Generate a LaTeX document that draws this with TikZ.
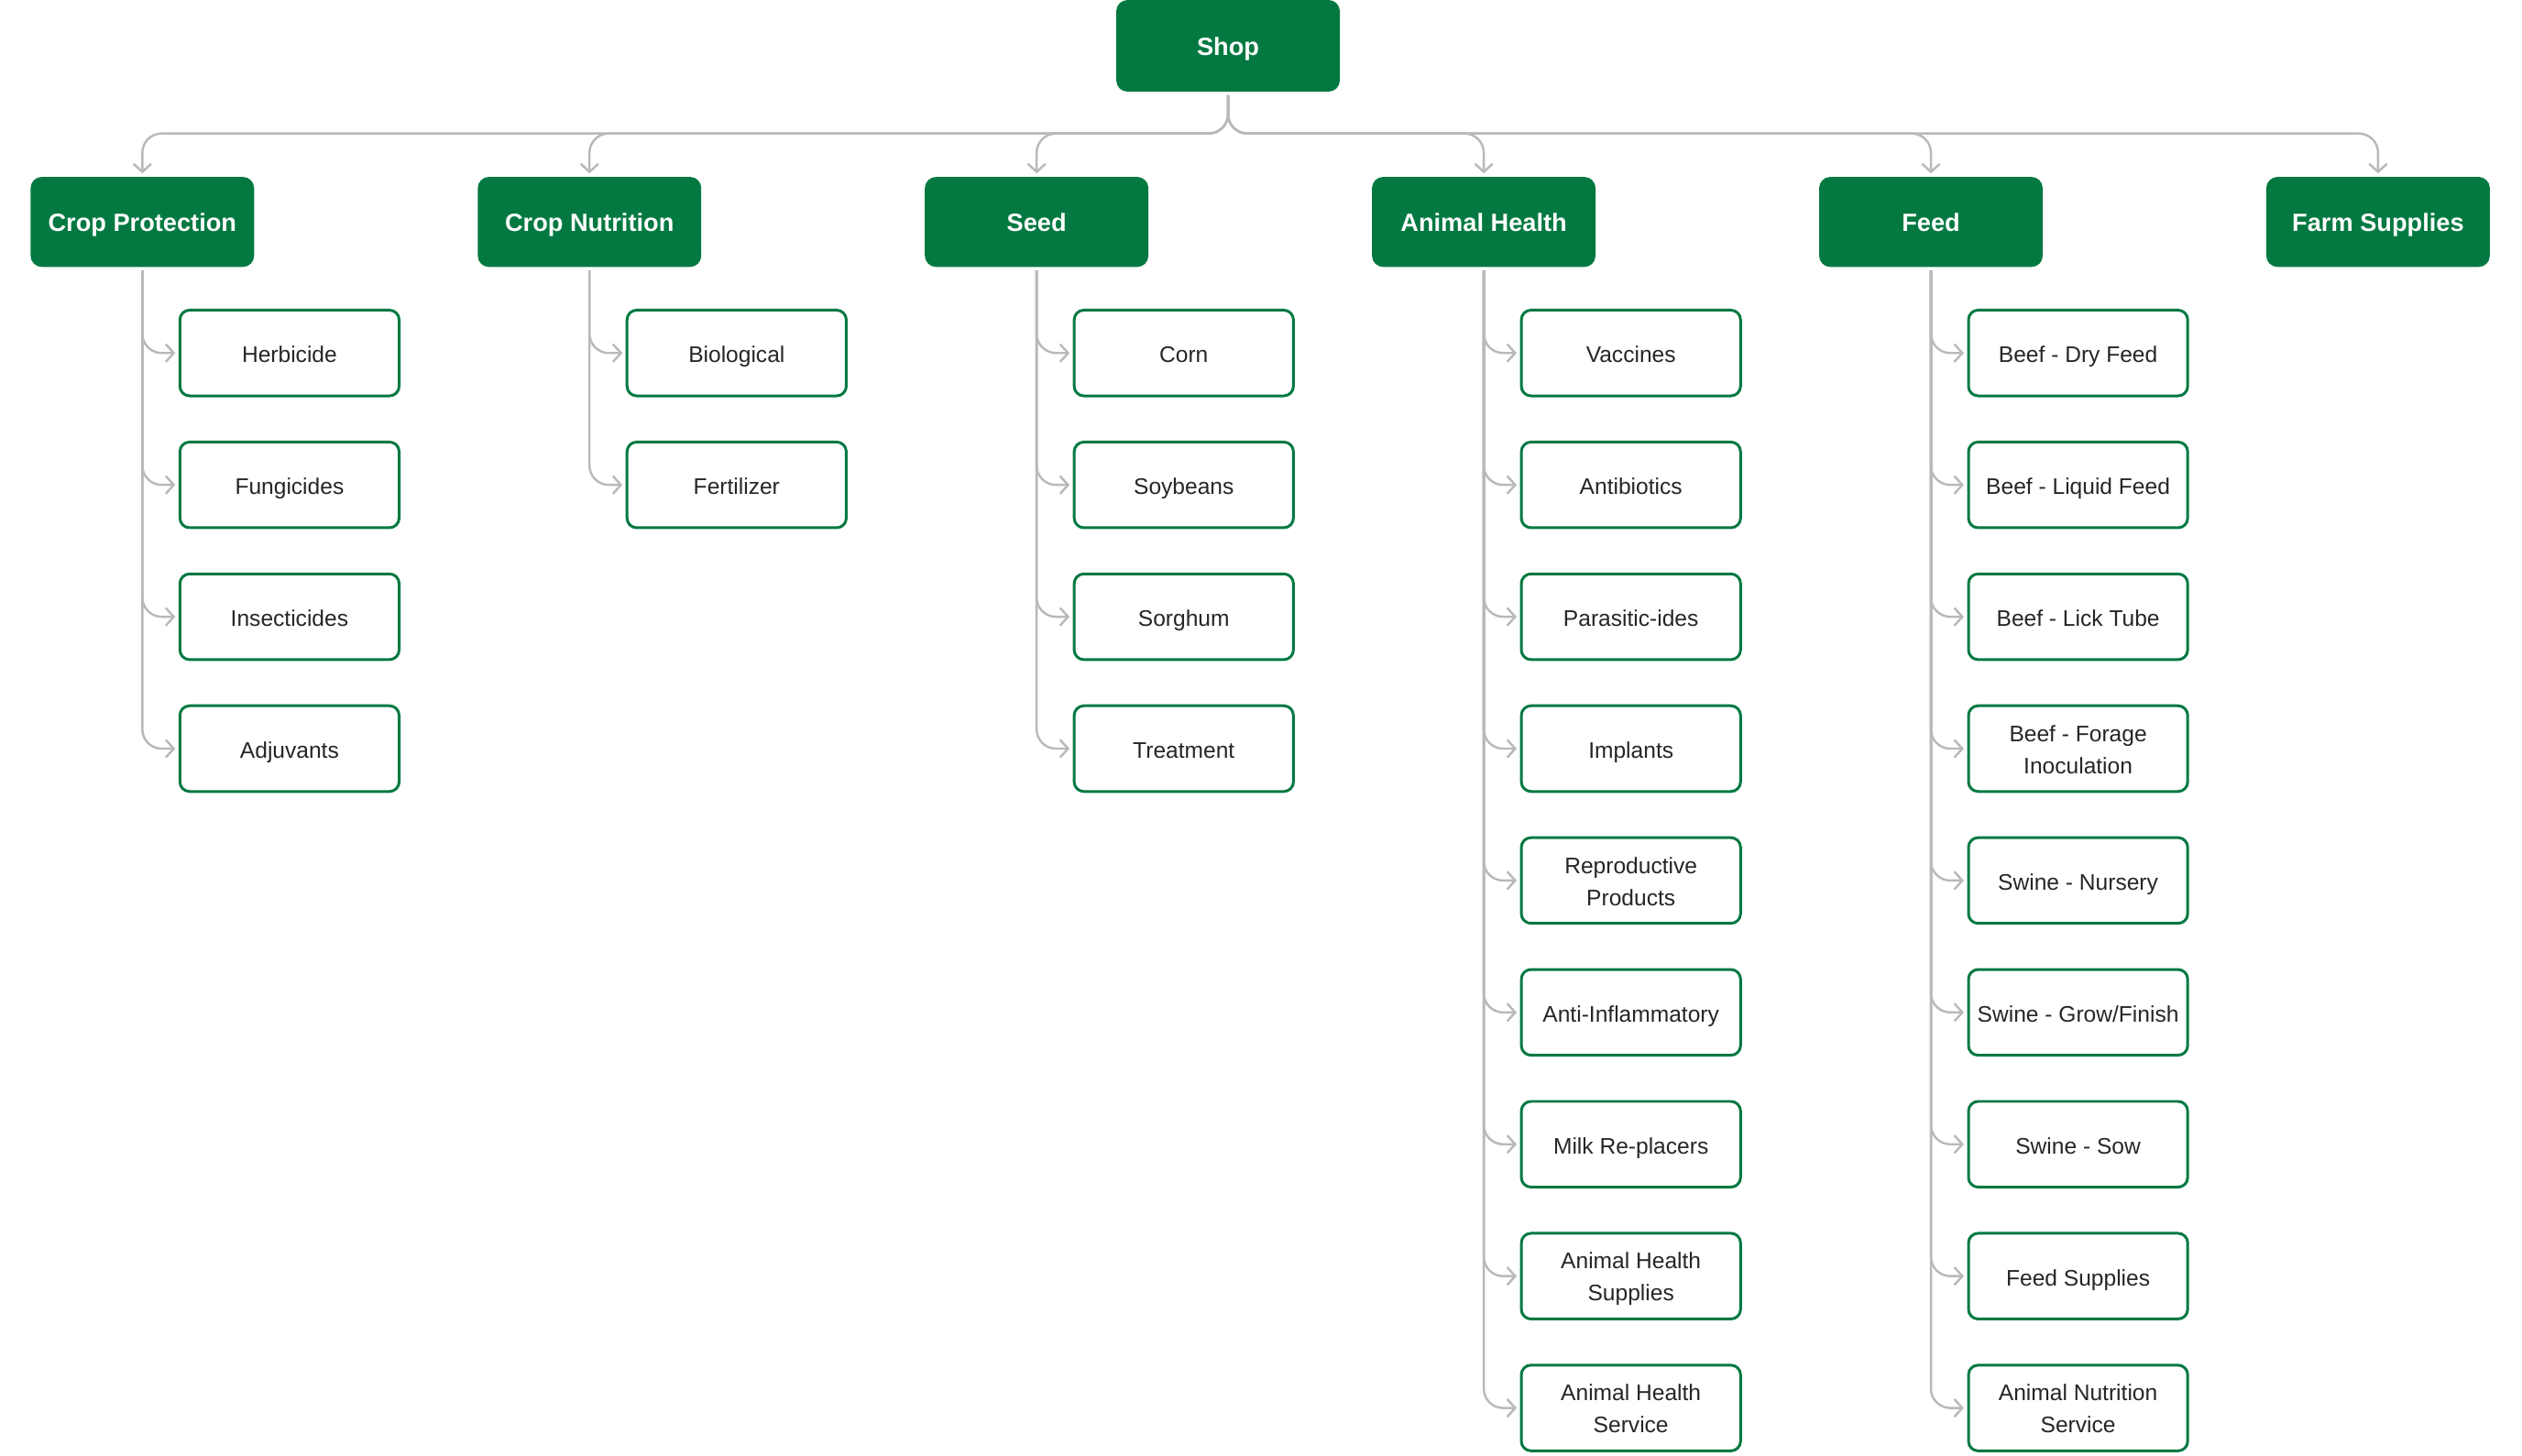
\documentclass[tikz,border=0pt]{standalone}
\usepackage{fontspec}
\setmainfont{Liberation Sans}
\usetikzlibrary{arrows.meta}
\definecolor{shopgreen}{RGB}{3,121,65}
\definecolor{linkgray}{RGB}{185,185,185}
\definecolor{inkgray}{RGB}{38,38,38}
\newcommand{\topstrut}{\rule{0pt}{16pt}}
\newcommand{\botstrut}{\rule[-4pt]{0pt}{4pt}}

\begin{document}
\begin{tikzpicture}[
    x=1pt, y=-1pt,
    head/.style={rectangle, rounded corners=7pt, fill=shopgreen, text=white,
        font=\fontsize{15.5}{20}\selectfont\bfseries,
        execute at begin node=\topstrut, execute at end node=\botstrut,
        minimum width=139pt, minimum height=56pt, inner sep=0pt},
    sub/.style={rectangle, rounded corners=6pt, draw=shopgreen, line width=1.7pt,
        fill=white, text=inkgray, font=\fontsize{14}{20}\selectfont, align=center,
        execute at begin node=\topstrut, execute at end node=\botstrut,
        minimum width=136.3pt, minimum height=53.3pt, inner sep=0pt},
    twoline/.style={text height=35pt, text depth=4pt},
    link/.style={draw=linkgray, line width=1.4pt, rounded corners=12pt,
        -{Straight Barb[length=5pt, width=11pt]}, shorten <=2pt, shorten >=2pt}
]
    \useasboundingbox (0,0) rectangle (1568,905);

    % --- TOP LEVEL ---
    \node[head, minimum height=57pt] (shop) at (763.5, 28.5) {Shop};
    \coordinate (bus) at (0, 83);

    % --- CATEGORIES ---
    \node[head] (cprot)   at (88.5, 138)   {Crop Protection};
    \node[head] (cnutr)   at (366.5, 138)  {Crop Nutrition};
    \node[head] (seed)    at (644.5, 138)  {Seed};
    \node[head] (ahealth) at (922.5, 138)  {Animal Health};
    \node[head] (feed)    at (1200.5, 138) {Feed};
    \node[head] (farm)    at (1478.5, 138) {Farm Supplies};

    \draw[link] (shop.south) |- (bus -| cprot.north) -- (cprot.north);
    \draw[link] (shop.south) |- (bus -| cnutr.north) -- (cnutr.north);
    \draw[link] (shop.south) |- (bus -| seed.north) -- (seed.north);
    \draw[link] (shop.south) |- (bus -| ahealth.north) -- (ahealth.north);
    \draw[link] (shop.south) |- (bus -| feed.north) -- (feed.north);
    \draw[link] (shop.south) |- (bus -| farm.north) -- (farm.north);

    % --- CROP PROTECTION ---
    \node[sub] (herb)   at (180, 219.5) {Herbicide};
    \node[sub] (fung)   at (180, 301.5) {Fungicides};
    \node[sub] (insect) at (180, 383.5) {Insecticides};
    \node[sub] (adjv)   at (180, 465.5) {Adjuvants};

    \draw[link] (cprot.south) |- (herb.west);
    \draw[link] (cprot.south) |- (fung.west);
    \draw[link] (cprot.south) |- (insect.west);
    \draw[link] (cprot.south) |- (adjv.west);

    % --- CROP NUTRITION ---
    \node[sub] (bio)  at (458, 219.5) {Biological};
    \node[sub] (fert) at (458, 301.5) {Fertilizer};

    \draw[link] (cnutr.south) |- (bio.west);
    \draw[link] (cnutr.south) |- (fert.west);

    % --- SEED ---
    \node[sub] (corn)  at (736, 219.5) {Corn};
    \node[sub] (soy)   at (736, 301.5) {Soybeans};
    \node[sub] (sorg)  at (736, 383.5) {Sorghum};
    \node[sub] (treat) at (736, 465.5) {Treatment};

    \draw[link] (seed.south) |- (corn.west);
    \draw[link] (seed.south) |- (soy.west);
    \draw[link] (seed.south) |- (sorg.west);
    \draw[link] (seed.south) |- (treat.west);

    % --- ANIMAL HEALTH ---
    \node[sub] (vacc)    at (1014, 219.5) {Vaccines};
    \node[sub] (antib)   at (1014, 301.5) {Antibiotics};
    \node[sub] (para)    at (1014, 383.5) {Parasitic-ides};
    \node[sub] (impl)    at (1014, 465.5) {Implants};
    \node[sub, twoline] (repro)   at (1014, 547.5) {Reproductive\\Products};
    \node[sub] (antiinf) at (1014, 629.5) {Anti-Inflammatory};
    \node[sub] (milk)    at (1014, 711.5) {Milk Re-placers};
    \node[sub, twoline] (ahsup)   at (1014, 793.5) {Animal Health\\Supplies};
    \node[sub, twoline] (ahserv)  at (1014, 875.5) {Animal Health\\Service};

    \draw[link] (ahealth.south) |- (vacc.west);
    \draw[link] (ahealth.south) |- (antib.west);
    \draw[link] (ahealth.south) |- (para.west);
    \draw[link] (ahealth.south) |- (impl.west);
    \draw[link] (ahealth.south) |- (repro.west);
    \draw[link] (ahealth.south) |- (antiinf.west);
    \draw[link] (ahealth.south) |- (milk.west);
    \draw[link] (ahealth.south) |- (ahsup.west);
    \draw[link] (ahealth.south) |- (ahserv.west);

    % --- FEED ---
    \node[sub] (bdry)    at (1292, 219.5) {Beef - Dry Feed};
    \node[sub] (bliq)    at (1292, 301.5) {Beef - Liquid Feed};
    \node[sub] (blick)   at (1292, 383.5) {Beef - Lick Tube};
    \node[sub, twoline] (bforage) at (1292, 465.5) {Beef - Forage\\Inoculation};
    \node[sub] (snurs)   at (1292, 547.5) {Swine - Nursery};
    \node[sub] (sgrow)   at (1292, 629.5) {Swine - Grow/Finish};
    \node[sub] (ssow)    at (1292, 711.5) {Swine - Sow};
    \node[sub] (fsup)    at (1292, 793.5) {Feed Supplies};
    \node[sub, twoline] (ansrv)   at (1292, 875.5) {Animal Nutrition\\Service};

    \draw[link] (feed.south) |- (bdry.west);
    \draw[link] (feed.south) |- (bliq.west);
    \draw[link] (feed.south) |- (blick.west);
    \draw[link] (feed.south) |- (bforage.west);
    \draw[link] (feed.south) |- (snurs.west);
    \draw[link] (feed.south) |- (sgrow.west);
    \draw[link] (feed.south) |- (ssow.west);
    \draw[link] (feed.south) |- (fsup.west);
    \draw[link] (feed.south) |- (ansrv.west);

\end{tikzpicture}
\end{document}
